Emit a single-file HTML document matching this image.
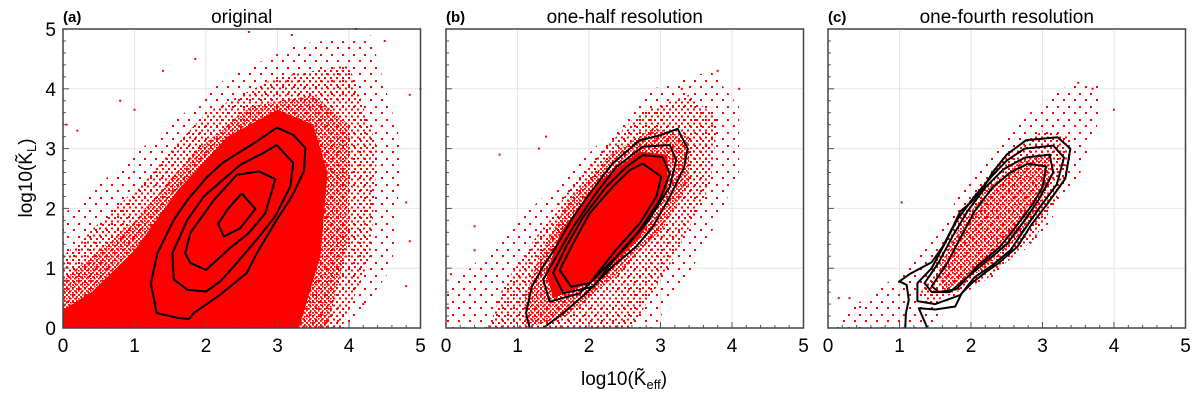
<!DOCTYPE html>
<html><head><meta charset="utf-8"><style>
body{margin:0;background:#fff}
svg{display:block;font-family:"Liberation Sans",sans-serif}
</style></head><body>
<svg id="chart" width="1200" height="400" viewBox="0 0 1200 400" xmlns="http://www.w3.org/2000/svg">
<defs>
<pattern id="dense" patternUnits="userSpaceOnUse" width="4" height="4"><rect x="0" y="0" width="1.8" height="1.8" fill="#f00"/><rect x="2" y="2" width="1.6" height="1.6" fill="#f00"/></pattern>
<pattern id="mid" patternUnits="userSpaceOnUse" width="6" height="7"><rect x="0" y="0" width="2" height="2" fill="#f00"/><rect x="3" y="3.5" width="2" height="2" fill="#f00"/></pattern>
<pattern id="sparse" patternUnits="userSpaceOnUse" width="11" height="13"><rect x="1" y="2" width="2" height="2" fill="#f00"/><rect x="7" y="8" width="2" height="2" fill="#f00"/></pattern>
</defs>
<g id="root"></g>
<text x="624" y="385" font-size="19" text-anchor="middle">log10(K̃<tspan font-size="13" dy="4">eff</tspan><tspan dy="-4">)</tspan></text>
<text transform="translate(32,178) rotate(-90)" font-size="19" text-anchor="middle">log10(K̃<tspan font-size="13" dy="4">L</tspan><tspan dy="-4">)</tspan></text>
</svg>
<script>
const ticks=[0,1,2,3,4,5];
const tickLabels=["0","1","2","3","4","5"];
const panelTitles=["original","one-half resolution","one-fourth resolution"];
const panelLetters=["(a)","(b)","(c)"];
const regionsA=[
 ["sparse",[[0,0],[4.0,0],[4.6,1.0],[4.75,3],[4.3,4.9],[3.3,4.75],[2.3,4.2],[1.2,3.1],[0,1.9]]],
 ["mid",[[0,0],[3.9,0],[4.3,1.2],[4.4,3],[4.0,4.4],[3.0,4.2],[2.0,3.6],[1.0,2.3],[0,1.2]]],
 ["dense",[[0,0],[3.7,0],[4.0,1.5],[4.0,3.4],[3.5,3.9],[2.6,3.7],[1.8,2.9],[1.0,1.8],[0,0.8]]],
 ["solid",[[0,0],[3.3,0],[3.6,1.2],[3.7,2.6],[3.5,3.4],[3.0,3.65],[2.3,3.2],[1.6,2.3],[1.0,1.3],[0.4,0.6],[0,0.3]]]
];
const regionsB=[
 ["sparse",[[0,0],[2.9,0],[3.6,1.3],[4.1,2.6],[4.1,3.7],[3.7,4.3],[2.9,4.0],[1.9,2.8],[1.1,1.9],[0,0.6]]],
 ["mid",[[0.6,0],[2.6,0],[3.2,1.2],[3.7,2.4],[3.8,3.5],[3.4,3.9],[2.7,3.6],[1.9,2.6],[1.3,1.6],[0.8,0.7]]],
 ["dense",[[1.1,0],[1.7,0.2],[2.4,0.9],[3.0,1.6],[3.4,2.4],[3.4,3.2],[2.9,3.35],[2.3,2.9],[1.7,2.1],[1.3,1.2],[1.1,0.5]]],
 ["solid",[[1.5,0.5],[2.1,0.8],[2.7,1.5],[3.1,2.3],[3.1,2.9],[2.7,2.95],[2.1,2.4],[1.6,1.6],[1.4,0.9]]]
];
const regionsC=[
 ["sparse",[[0.1,0],[1.5,0],[1.6,0.4],[2.4,0.9],[3.0,1.6],[3.5,2.5],[3.8,3.5],[3.8,4.1],[3.4,4.1],[2.6,3.4],[2.0,2.6],[1.5,1.5],[1.0,0.9],[0.4,0.4]]],
 ["mid",[[1.4,0.4],[2.2,0.8],[2.9,1.5],[3.3,2.4],[3.4,3.2],[3.0,3.3],[2.4,2.8],[1.9,2.0],[1.5,1.2],[1.3,0.6]]],
 ["dense",[[1.6,0.6],[2.2,1.0],[2.8,1.7],[3.1,2.4],[3.1,2.9],[2.7,2.8],[2.2,2.3],[1.8,1.6],[1.55,1.0]]]
];
const contoursA=[
 [[2.99,3.35],[3.22,3.23],[3.39,3.01],[3.37,2.62],[3.2,2.2],[2.99,1.81],[2.71,1.25],[2.57,0.92],[2.2,0.56],[1.83,0.25],[1.76,0.15],[1.6,0.17],[1.31,0.25],[1.23,0.75],[1.32,1.25],[1.55,1.81],[1.74,2.14],[2.02,2.53],[2.23,2.76],[2.67,3.09],[2.99,3.35]],
 [[2.99,3.06],[3.22,2.76],[3.18,2.37],[2.97,1.87],[2.71,1.48],[2.39,1.03],[2.2,0.78],[2.0,0.61],[1.74,0.64],[1.55,0.81],[1.53,1.25],[1.74,1.81],[1.97,2.2],[2.48,2.73],[2.76,2.9],[2.99,3.06]],
 [[2.74,2.62],[2.97,2.49],[2.83,1.92],[2.6,1.59],[2.34,1.34],[2.0,0.97],[1.78,1.09],[1.71,1.25],[1.78,1.59],[2.11,2.14],[2.43,2.56],[2.74,2.62]],
 [[2.5,2.25],[2.69,1.99],[2.48,1.67],[2.25,1.53],[2.17,1.74],[2.3,1.98],[2.5,2.25]]
];
const contoursB=[
 [[1.36,0],[1.64,0.25],[1.96,0.58],[2.33,1.03],[2.66,1.36],[2.89,1.69],[3.13,2.19],[3.33,2.69],[3.38,3.0],[3.24,3.33],[2.99,3.22],[2.71,3.14],[2.33,2.75],[2.01,2.25],[1.78,1.86],[1.54,1.36],[1.36,1.03],[1.2,0.69],[1.12,0.25],[1.17,0]],
 [[3.13,3.06],[3.22,2.81],[3.13,2.36],[2.84,1.81],[2.52,1.36],[2.15,0.92],[1.87,0.58],[1.45,0.44],[1.36,0.81],[1.54,1.19],[1.78,1.69],[2.06,2.19],[2.38,2.69],[2.75,3.03],[3.13,3.06]],
 [[3.03,2.86],[3.13,2.58],[2.99,2.14],[2.71,1.64],[2.38,1.19],[2.06,0.69],[1.64,0.58],[1.5,0.92],[1.68,1.36],[1.92,1.86],[2.24,2.36],[2.52,2.69],[2.75,2.89],[3.03,2.86]],
 [[2.75,2.75],[3.01,2.53],[2.94,2.19],[2.71,1.75],[2.38,1.31],[2.01,0.75],[1.75,0.69],[1.59,0.97],[1.78,1.42],[2.01,1.92],[2.33,2.36],[2.57,2.64],[2.75,2.75]]
];
const contoursC=[
 [[1.39,0],[1.27,0.33],[1.5,0.31],[1.78,0.36],[1.87,0.58],[2.01,0.75],[2.19,0.92],[2.38,1.08],[2.65,1.36],[2.84,1.72],[3.07,2.08],[3.32,2.5],[3.39,3.0],[3.21,3.19],[2.77,3.14],[2.5,2.9],[2.3,2.6],[2.15,2.3],[2.0,2.1],[1.85,1.95],[1.75,1.7],[1.6,1.35],[1.45,1.1],[1.14,0.9],[1.0,0.78],[1.1,0.72],[1.13,0.47],[1.09,0.25],[1.08,0]],
 [[2.75,3.0],[3.15,3.05],[3.3,2.85],[3.2,2.4],[2.95,2.0],[2.75,1.65],[2.55,1.3],[2.3,1.05],[2.05,0.85],[1.85,0.55],[1.5,0.4],[1.25,0.45],[1.25,0.75],[1.45,1.0],[1.65,1.45],[1.8,1.8],[2.05,2.2],[2.3,2.55],[2.5,2.8],[2.75,3.0]],
 [[2.75,2.85],[3.1,2.9],[3.15,2.6],[2.95,2.15],[2.75,1.8],[2.5,1.4],[2.25,1.15],[2.0,0.9],[1.7,0.6],[1.45,0.6],[1.35,0.75],[1.55,1.1],[1.75,1.55],[1.95,1.95],[2.2,2.35],[2.45,2.65],[2.75,2.85]],
 [[2.8,2.75],[3.05,2.7],[3.0,2.35],[2.85,2.05],[2.6,1.65],[2.4,1.35],[2.1,1.05],[1.8,0.65],[1.55,0.6],[1.45,0.7],[1.65,1.05],[1.85,1.5],[2.05,1.95],[2.3,2.35],[2.55,2.6],[2.8,2.75]]
];
const outliersA=[[0.05,3.4],[0.2,3.3],[1.4,4.3],[1.85,4.5],[2.6,4.95],[3.2,4.9],[4.1,5.0],[4.5,4.8],[5.0,4.0],[4.85,3.9],[4.8,2.1],[4.85,1.45],[4.8,0.7],[4.2,0.4],[0.8,3.8],[1.0,3.65]];
const outliersB=[[0.75,2.9],[1.4,3.2],[1.3,3.0],[4.1,4.0],[3.8,4.3],[3.3,4.0],[0.4,1.7],[0.4,1.3],[0.07,0.9]];
const outliersC=[[1.03,2.1],[4.0,3.65],[3.7,4.0],[3.5,4.1],[0.15,0.5],[0.3,0.5],[0.45,0.35]];
const panels=[{x0:63,r:regionsA,c:contoursA,o:outliersA},{x0:446,r:regionsB,c:contoursB,o:outliersB},{x0:828,r:regionsC,c:contoursC,o:outliersC}];
const NS="http://www.w3.org/2000/svg";
const root=document.getElementById('root');
const W=357.5,Y0=328,H=299;
function mk(t,a,p){const e=document.createElementNS(NS,t);for(const k in a)e.setAttribute(k,a[k]);(p||root).appendChild(e);return e;}
panels.forEach((p,i)=>{
 const sx=v=>p.x0+v/5*W, sy=v=>Y0-v/5*H;
 const g=mk('g',{});
 
 
 ticks.forEach(t=>{
  const gl=mk('line',{x1:sx(t),x2:sx(t),y1:Y0,y2:Y0-H,stroke:'#e6e6e6','stroke-width':1},g);
  
  
  const gh=mk('line',{x1:p.x0,x2:p.x0+W,y1:sy(t),y2:sy(t),stroke:'#e6e6e6','stroke-width':1},g);
  
  
 });
 const clip=mk('g',{},g);
 p.r.forEach(r=>{
  const fill=r[0]==='solid'?'#f00':'url(#'+r[0]+')';
  const pg=mk('polygon',{points:r[1].map(q=>sx(q[0])+','+sy(q[1])).join(' '),fill:fill},clip);
  
  
 });
 p.o.forEach(q=>{
  const d=mk('rect',{x:sx(q[0])-1,y:sy(q[1])-1,width:2,height:2,fill:'#f00'},clip);
  
  
 });
 p.c.forEach((c,j)=>{
  const pl=mk('polyline',{points:c.map(q=>sx(q[0])+','+sy(q[1])).join(' '),fill:'none',stroke:'#000','stroke-width':2,'stroke-linejoin':'round'},g);
  
  
 });
 for(let m=0;m<=25;m++){
  const v=m/5, len=(m%5===0)?6:3;
  const tx=mk('line',{x1:sx(v),x2:sx(v),y1:Y0,y2:Y0-len,stroke:'#555','stroke-width':1},g);
  
  
  const ty=mk('line',{x1:p.x0,x2:p.x0+len,y1:sy(v),y2:sy(v),stroke:'#555','stroke-width':1},g);
  
  
 }
 const fr=mk('rect',{x:p.x0,y:Y0-H,width:W,height:H,fill:'none',stroke:'#444','stroke-width':1.5},g);
 
 
 ticks.forEach((t,k)=>{
  const tl=mk('text',{x:sx(t),y:352,'font-size':19,'text-anchor':'middle'},g);
  tl.textContent=tickLabels[k];
  
  
  if(i===0){
   const yl=mk('text',{x:p.x0-7,y:sy(t)+7,'font-size':19,'text-anchor':'end'},g);
   yl.textContent=tickLabels[k];
   
   
  }
 });
 const tt=mk('text',{x:p.x0+W/2,y:23,'font-size':19,'text-anchor':'middle'},g);
 tt.textContent=panelTitles[i];
 
 
 const lt=mk('text',{x:p.x0,y:22,'font-size':15,'font-weight':'bold'},g);
 lt.textContent=panelLetters[i];
 
 
});
</script>
</body></html>
